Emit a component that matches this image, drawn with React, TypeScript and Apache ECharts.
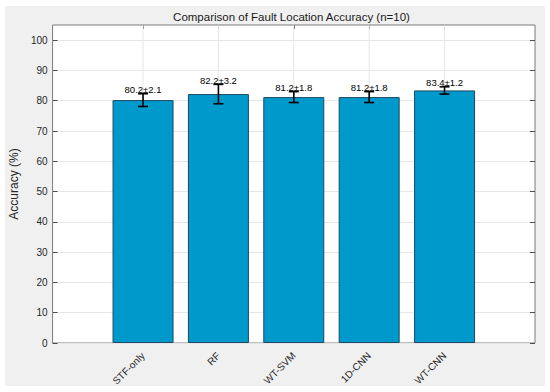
import React, { useEffect, useRef } from "react";
import * as echarts from "echarts";

const categories = ["STF-only", "RF", "WT-SVM", "1D-CNN", "WT-CNN"];
const means = [80.2, 82.2, 81.2, 81.2, 83.4];
const errors = [2.1, 3.2, 1.8, 1.8, 1.2];
const yTicks = [0, 10, 20, 30, 40, 50, 60, 70, 80, 90, 100];
const titleText = "Comparison of Fault Location Accuracy (n=10)";
const yLabel = "Accuracy (%)";

const FONT = 'Arial, "Liberation Sans", Helvetica, sans-serif';
const Y_MAX = 105;

export default function App() {
  const ref = useRef<HTMLDivElement>(null);
  useEffect(() => {
    document.body.style.margin = "0";
    const chart = echarts.init(ref.current!, undefined, { renderer: "svg" });
    const idx = categories.map((_, i) => i);
    const barData = means.map((m, i) => [i, m]);
    const errData = means.map((m, i) => [i, m, errors[i]]);
    const gridData = idx.map((i) => [i]);
    const axisColor = "#4d4d4d";
    const gridColor = "#e6e6e6";
    const hiddenLine = { show: false, onZero: false };
    chart.setOption({
      animation: false,
      backgroundColor: "#ffffff",
      textStyle: { fontFamily: FONT },
      graphic: [
        {
          type: "rect",
          z: -10,
          silent: true,
          shape: { x: 5, y: 6, width: 540, height: 380 },
          style: { fill: "#f0f0f0" },
        },
        {
          type: "text",
          x: 291.5,
          y: 17,
          style: {
            text: titleText,
            fontSize: 11.5,
            fontFamily: FONT,
            fill: "#1a1a1a",
            textAlign: "center",
            textVerticalAlign: "middle",
          },
        },
      ],
      grid: {
        left: 48,
        right: 15,
        top: 25,
        bottom: 49,
        show: true,
        backgroundColor: "#ffffff",
        borderColor: "#7a7a7a",
        borderWidth: 1,
      },
      xAxis: [
        {
          type: "value",
          position: "bottom",
          min: -1.2,
          max: 5.2,
          axisLine: hiddenLine,
          splitLine: { show: false },
          axisTick: {
            show: true,
            inside: true,
            length: 4,
            customValues: idx,
            lineStyle: { color: axisColor },
          },
          axisLabel: {
            show: true,
            customValues: idx,
            rotate: 45,
            margin: 11,
            fontSize: 10,
            fontFamily: FONT,
            color: "#262626",
            formatter: (v: number) => categories[Math.round(v)] ?? "",
          },
        },
        {
          type: "value",
          position: "top",
          min: -1.2,
          max: 5.2,
          axisLine: hiddenLine,
          splitLine: { show: false },
          axisTick: {
            show: true,
            inside: true,
            length: 4,
            customValues: idx,
            lineStyle: { color: axisColor },
          },
          axisLabel: { show: false },
        },
      ],
      yAxis: [
        {
          type: "value",
          position: "left",
          min: 0,
          max: Y_MAX,
          interval: 10,
          name: yLabel,
          nameLocation: "middle",
          nameGap: 21,
          nameTextStyle: { fontSize: 12, fontFamily: FONT, color: "#262626" },
          axisLine: hiddenLine,
          axisTick: {
            show: true,
            inside: true,
            length: 5,
            customValues: yTicks,
            lineStyle: { color: axisColor },
          },
          axisLabel: {
            customValues: yTicks,
            fontSize: 10,
            fontFamily: FONT,
            color: "#262626",
            margin: 5,
          },
          splitLine: { show: true, lineStyle: { color: gridColor, width: 1 } },
        },
        {
          type: "value",
          position: "right",
          min: 0,
          max: Y_MAX,
          interval: 10,
          axisLine: hiddenLine,
          axisTick: {
            show: true,
            inside: true,
            length: 5,
            customValues: yTicks,
            lineStyle: { color: axisColor },
          },
          axisLabel: { show: false },
          splitLine: { show: false },
        },
      ],
      series: [
        {
          type: "custom",
          z: 1,
          silent: true,
          data: gridData,
          renderItem: (params: any, api: any) => {
            const x = api.value(0);
            const p0 = api.coord([x, 0]);
            const p1 = api.coord([x, Y_MAX]);
            return {
              type: "line",
              shape: { x1: p0[0], y1: p0[1], x2: p1[0], y2: p1[1] },
              style: { stroke: gridColor, lineWidth: 1 },
            };
          },
        },
        {
          type: "bar",
          data: barData,
          z: 3,
          barWidth: 61,
          itemStyle: {
            color: "#0099cc",
            borderColor: "#1d4a63",
            borderWidth: 1,
          },
        },
        {
          type: "custom",
          z: 5,
          data: errData,
          renderItem: (params: any, api: any) => {
            const x = api.value(0);
            const y = api.value(1);
            const e = api.value(2);
            const top = api.coord([x, y + e]);
            const bot = api.coord([x, y - e]);
            const hw = 5;
            const ls = { stroke: "#000", lineWidth: 1.6 };
            return {
              type: "group",
              children: [
                { type: "line", shape: { x1: top[0], y1: top[1], x2: bot[0], y2: bot[1] }, style: ls },
                { type: "line", shape: { x1: top[0] - hw, y1: top[1], x2: top[0] + hw, y2: top[1] }, style: ls },
                { type: "line", shape: { x1: bot[0] - hw, y1: bot[1], x2: bot[0] + hw, y2: bot[1] }, style: ls },
                {
                  type: "text",
                  x: top[0],
                  y: top[1] + 1,
                  style: {
                    text: `${y.toFixed(1)}±${e.toFixed(1)}`,
                    fontSize: 9.5,
                    fontFamily: FONT,
                    fill: "#000",
                    textAlign: "center",
                    textVerticalAlign: "bottom",
                  },
                },
              ],
            };
          },
        },
      ],
    });
    return () => chart.dispose();
  }, []);
  return <div ref={ref} style={{ width: 550, height: 392 }} />;
}
